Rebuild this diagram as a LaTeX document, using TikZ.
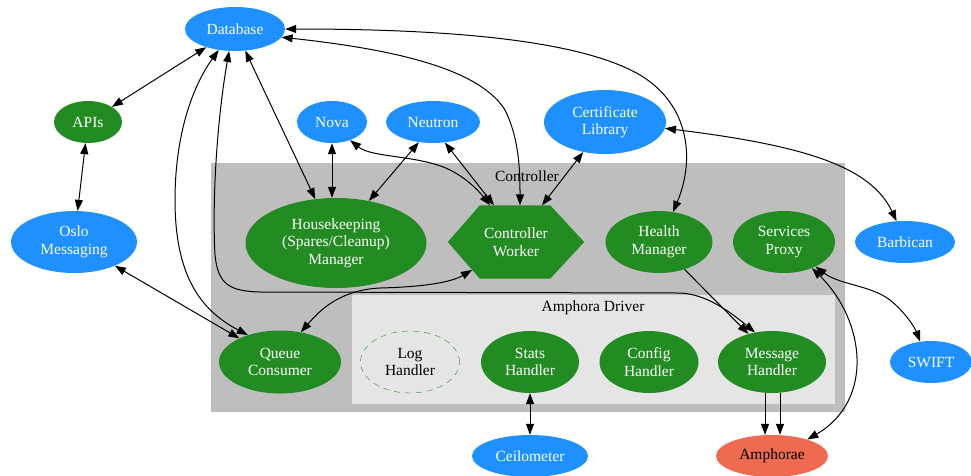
\documentclass[tikz,border=0pt]{standalone}
\usepackage{fontspec}
\setmainfont{Liberation Serif}
\usetikzlibrary{shapes.geometric,arrows.meta}
\definecolor{dblue}{HTML}{1E90FF}
\definecolor{fgreen}{HTML}{228B22}
\definecolor{coralr}{HTML}{EE6A50}
\definecolor{cgray}{HTML}{BEBEBE}
\definecolor{cgrayl}{HTML}{E5E5E5}
\tikzset{
  base/.style={ellipse, inner sep=0pt, align=center, font=\fontsize{15.5}{17.5}\selectfont},
  bluen/.style={base, fill=dblue, text=white},
  greenn/.style={base, fill=fgreen, text=white},
  edge/.style={line width=1pt, draw=black, -{Triangle[length=11pt,width=8pt]}},
  bedge/.style={line width=1pt, draw=black, {Triangle[length=11pt,width=8pt]}-{Triangle[length=11pt,width=8pt]}},
  lbl/.style={font=\fontsize{15.5}{17.5}\selectfont, text=black, inner sep=0pt}
}
\begin{document}
\begin{tikzpicture}[x=1pt,y=-1pt]
\useasboundingbox (0,0) rectangle (971,475);
% clusters
\fill[cgray] (211,163) rectangle (845,412);
\fill[cgrayl] (352,295) rectangle (835,404);
\node[lbl] (lctrl) at (527,176) {Controller};
\node[lbl] (ldrv) at (593,308) {Amphora Driver};
% nodes
\node[bluen, minimum width=100pt, minimum height=44pt] (db) at (235,29) {Database};
\node[greenn, minimum width=68pt, minimum height=42pt] (apis) at (88,122) {APIs};
\node[bluen, minimum width=126pt, minimum height=62pt] (oslo) at (74,242) {Oslo\\Messaging};
\node[bluen, minimum width=70pt, minimum height=42pt] (nova) at (332,122) {Nova};
\node[bluen, minimum width=94pt, minimum height=42pt] (neutron) at (433,122) {Neutron};
\node[bluen, minimum width=122pt, minimum height=64pt] (cert) at (605,122) {Certificate\\Library};
\node[bluen, minimum width=100pt, minimum height=42pt] (barb) at (905,242) {Barbican};
\node[bluen, minimum width=82pt, minimum height=42pt] (swift) at (931,362) {SWIFT};
\node[bluen, minimum width=116pt, minimum height=42pt] (ceil) at (530,456) {Ceilometer};
\node[base, fill=coralr, text=black, minimum width=112pt, minimum height=42pt] (amph) at (772,456) {Amphorae};
\node[greenn, minimum width=181pt, minimum height=90pt] (hk) at (336,243) {Housekeeping\\(Spares/Cleanup)\\Manager};
\node[rectangle, inner sep=0pt, minimum width=136pt, minimum height=73pt] (cw) at (516,242) {};
\fill[fgreen] (cw.west) -- ([xshift=32pt]cw.north west) -- ([xshift=-34pt]cw.north east) -- (cw.east) -- ([xshift=-34pt]cw.south east) -- ([xshift=32pt]cw.south west) -- cycle;
\node[lbl, text=white, align=center] (cwt) at (cw.center) {Controller\\Worker};
\node[greenn, minimum width=107pt, minimum height=62pt] (hm) at (659,242) {Health\\Manager};
\node[greenn, minimum width=102pt, minimum height=62pt] (sp) at (784,242) {Services\\Proxy};
\node[greenn, minimum width=122pt, minimum height=63pt] (qc) at (280,362) {Queue\\Consumer};
\node[base, draw=fgreen, dashed, dash pattern=on 6pt off 5pt, text=black, minimum width=99pt, minimum height=62pt] (log) at (410,362) {Log\\Handler};
\node[greenn, minimum width=98pt, minimum height=62pt] (stats) at (530,362) {Stats\\Handler};
\node[greenn, minimum width=99pt, minimum height=62pt] (cfg) at (649,362) {Config\\Handler};
\node[greenn, minimum width=108pt, minimum height=62pt] (mh) at (772,362) {Message\\Handler};
% edges
\draw[bedge] (db) -- (apis);
\draw[bedge] (apis) -- (oslo);
\draw[bedge] (oslo) -- (qc);
\draw[bedge] (db.232) .. controls (190,90) and (175,140) .. (175,200) .. controls (175,275) and (200,310) .. (qc.140);
\draw[bedge] (db.255) .. controls (217,120) and (212,200) .. (215,255) .. controls (218,285) and (230,291) .. (260,292) -- (680,293) .. controls (705,294) and (728,310) .. (mh.120);
\draw[bedge] (db) -- (hk);
\draw[bedge] (db.-10) .. controls (400,50) and (480,70) .. (505,110) .. controls (520,140) and (520,175) .. ([xshift=4pt]cw.north);
\draw[bedge] (db.east) .. controls (450,29) and (580,40) .. (640,75) .. controls (690,105) and (695,160) .. (hm.65);
\draw[bedge] (nova.south) -- (nova.south |- hk.north);
\draw[bedge] (neutron.235) -- (hk.52);
\draw[bedge] (nova.-45) .. controls (372,158) and (420,155) .. (450,170) .. controls (470,180) and (482,195) .. ([xshift=-26pt]cw.north);
\draw[bedge] (neutron.-60) -- ([xshift=-22pt]cw.north);
\draw[bedge] (cert.234) -- ([xshift=26pt]cw.north);
\draw[bedge] (cert.-6) .. controls (800,145) and (870,165) .. (barb.112);
\draw[bedge] ([xshift=-44pt,yshift=-28pt]cw.center) .. controls (450,283) and (420,287) .. (380,288) .. controls (340,290) and (320,310) .. (qc.55);
\draw[edge] (hm.-47) -- (mh.130);
\draw[bedge] (sp.-38) .. controls (840,285) and (870,285) .. (890,300) .. controls (905,312) and (915,328) .. (swift.118);
\draw[bedge] (sp.-43) .. controls (865,320) and (875,400) .. (amph.25);
\draw[edge] ([xshift=-7pt]mh.south) -- ([xshift=-7pt]amph.north);
\draw[edge] ([xshift=8pt]mh.south) -- ([xshift=8pt]amph.north);
\draw[bedge] (stats.south) -- (ceil.north);
\end{tikzpicture}
\end{document}
